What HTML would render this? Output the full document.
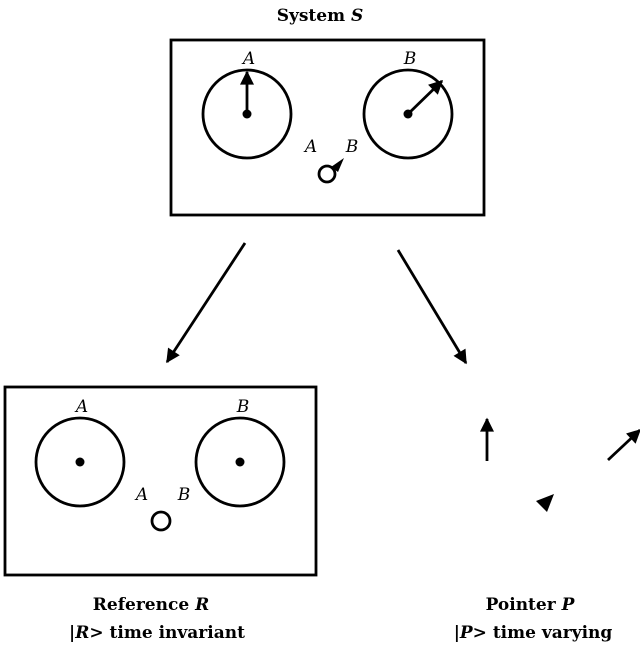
<!DOCTYPE html>
<html><head><style>body{margin:0;background:#fff}svg{display:block}text{font-family:"DejaVu Serif","Liberation Serif",serif;fill:#000}</style></head><body>
<svg width="640" height="645" viewBox="0 0 640 645">
<defs><marker id="ah" viewBox="0 0 10 10" refX="9" refY="5" markerWidth="6" markerHeight="5" orient="auto"><path d="M0,0L10,5L0,10z" fill="#000"/></marker></defs>
<g stroke="#000" stroke-width="2.8" fill="none">
<rect x="171" y="40" width="313" height="175"/>
<circle cx="247" cy="114" r="44"/><circle cx="408" cy="114" r="44"/>
<circle cx="327" cy="174" r="8"/>
<rect x="5" y="387" width="311" height="188"/>
<circle cx="80" cy="462" r="44"/><circle cx="240" cy="462" r="44"/>
<circle cx="161" cy="521" r="9"/>
<line x1="247" y1="114" x2="247" y2="72" marker-end="url(#ah)"/>
<line x1="408" y1="114" x2="442" y2="81" marker-end="url(#ah)"/>
<line x1="245" y1="243" x2="167" y2="362" marker-end="url(#ah)"/>
<line x1="398" y1="250" x2="466" y2="363" marker-end="url(#ah)"/>
<line x1="487" y1="461" x2="487" y2="419" marker-end="url(#ah)"/>
<line x1="608" y1="460" x2="640" y2="430" marker-end="url(#ah)"/>
</g>
<g fill="#000">
<circle cx="247" cy="114" r="4.5"/><circle cx="408" cy="114" r="4.5"/>
<circle cx="80" cy="462" r="4.5"/><circle cx="240" cy="462" r="4.5"/>
<path d="M331,167L344,158L338,172z"/>
<path d="M536,501L554,494L547,512z"/>
</g>
<g font-size="17" font-style="italic">
<text x="249" y="64" text-anchor="middle">A</text><text x="410" y="64" text-anchor="middle">B</text>
<text x="311" y="152" text-anchor="middle">A</text><text x="352" y="152" text-anchor="middle">B</text>
<text x="82" y="412" text-anchor="middle">A</text><text x="243" y="412" text-anchor="middle">B</text>
<text x="142" y="500" text-anchor="middle">A</text><text x="184" y="500" text-anchor="middle">B</text>
</g>
<g font-size="17" font-weight="bold" text-anchor="middle">
<text x="320" y="21">System <tspan font-style="italic">S</tspan></text>
<text x="151" y="610">Reference <tspan font-style="italic">R</tspan></text>
<text x="157" y="638">|<tspan font-style="italic">R</tspan>&gt; time invariant</text>
<text x="530" y="610">Pointer <tspan font-style="italic">P</tspan></text>
<text x="533" y="638">|<tspan font-style="italic">P</tspan>&gt; time varying</text>
</g>
</svg>
</body></html>
